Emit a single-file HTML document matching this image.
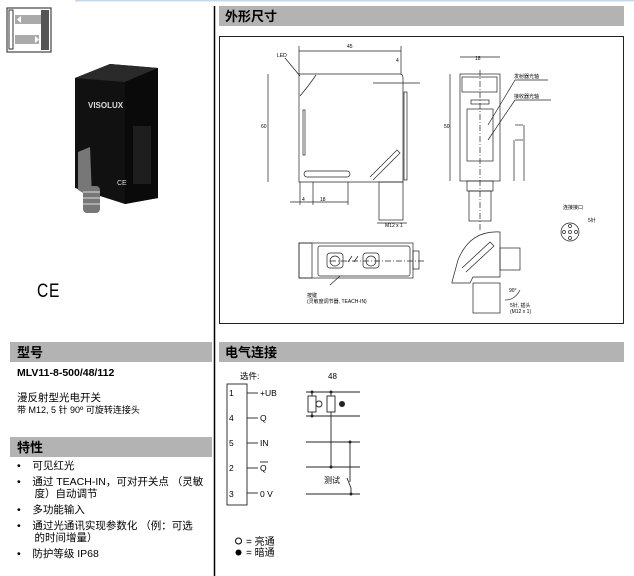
<!DOCTYPE html>
<html><head><meta charset="utf-8"><style>
html,body{margin:0;padding:0;background:#fff}
body{width:634px;height:576px;overflow:hidden;position:relative;font-family:"Liberation Sans","Noto Sans CJK SC",sans-serif}
.t{position:absolute;white-space:nowrap;color:#000}
</style></head><body>
<svg width="634" height="576" style="position:absolute;left:0;top:0" font-family="Liberation Sans, Noto Sans CJK SC, sans-serif">
<line x1="75" y1="0.5" x2="634" y2="0.5" stroke="#c8d8ea" stroke-width="2"/>
<line x1="214.5" y1="6" x2="214.5" y2="576" stroke="#000" stroke-width="1.5"/>
<rect x="219" y="6" width="405" height="20" fill="#b3b3b3"/>
<rect x="10" y="342" width="202" height="20" fill="#b3b3b3"/>
<rect x="219" y="342" width="405" height="20" fill="#b3b3b3"/>
<rect x="10" y="437" width="202" height="20" fill="#b3b3b3"/>
<text x="225" y="21" font-size="13" font-weight="bold">外形尺寸</text>
<text x="17" y="357" font-size="13" font-weight="bold">型号</text>
<text x="225" y="357" font-size="13" font-weight="bold">电气连接</text>
<text x="17" y="452" font-size="13" font-weight="bold">特性</text>
<rect x="7" y="8" width="44" height="44" fill="#fff" stroke="#444" stroke-width="1.2"/>
<rect x="9" y="10" width="4" height="39" fill="#fff" stroke="#333"/>
<rect x="41" y="10" width="8" height="40" fill="#555"/>
<rect x="15" y="15" width="26" height="9" fill="#aaa"/>
<rect x="15" y="35" width="24" height="9" fill="#aaa"/>
<polygon points="17,19.5 21,16 21,23" fill="#fff"/>
<polygon points="39,39.5 35,36 35,43" fill="#fff"/>
<polygon points="75,78 110,64 158,68 158,198 125,204 75,188" fill="#111"/>
<polygon points="75,78 110,64 158,68 125,82" fill="#2a2a2a"/>
<polygon points="125,82 158,68 158,198 125,204" fill="#0a0a0a"/>
<rect x="133" y="126" width="18" height="58" fill="#1e1e1e"/>
<polygon points="78,152 90,147 92,198 78,190" fill="#777"/>
<rect x="83" y="186" width="17" height="27" rx="4" fill="#777"/>
<rect x="83" y="191" width="17" height="2" fill="#aaa"/><rect x="83" y="197" width="17" height="2" fill="#aaa"/><rect x="83" y="203" width="17" height="2" fill="#aaa"/>
<text x="88" y="108" font-size="8" fill="#ddd" font-weight="bold">VISOLUX</text>
<text x="117" y="185" font-size="7" fill="#ddd">CE</text>
<text x="37" y="297" font-size="19" transform="translate(37 0) scale(0.82 1) translate(-37 0)" letter-spacing="1">CE</text>
<rect x="219.5" y="36.5" width="404" height="287" fill="#fff" stroke="#222" stroke-width="1"/>
<g stroke="#222" fill="none" stroke-width="0.7">
<path d="M299,74 L400,74 Q403,74 403,78 L403,182 L299,182 Z"/>
<path d="M300,96 Q310,84 316,75"/>
<rect x="303" y="110" width="2" height="45"/>
<rect x="304" y="171" width="46" height="6" rx="3"/>
<path d="M370,177 L397,150 L400,153 L373,180"/>
<rect x="404" y="92" width="3" height="88"/>
<rect x="379" y="182" width="24" height="38"/>
<line x1="268" y1="74" x2="268" y2="182"/>
<line x1="299" y1="51" x2="401" y2="51"/>
<line x1="299" y1="46" x2="299" y2="74"/><line x1="401" y1="46" x2="401" y2="74"/>
<line x1="290" y1="202" x2="348" y2="202"/>
<line x1="300" y1="182" x2="300" y2="205"/><line x1="313" y1="182" x2="313" y2="205"/><line x1="348" y1="182" x2="348" y2="205"/>
<line x1="377" y1="223" x2="407" y2="223"/>
<line x1="285" y1="58" x2="300" y2="76"/>
<line x1="373" y1="83" x2="420" y2="83"/>
<rect x="460" y="74" width="40" height="107"/>
<rect x="462" y="77" width="35" height="15"/>
<rect x="467" y="109" width="26" height="52"/>
<rect x="471" y="100" width="18" height="4"/>
<rect x="467" y="181" width="26" height="10"/>
<rect x="469" y="191" width="22" height="30"/>
<line x1="460" y1="57" x2="500" y2="57"/>
<line x1="450" y1="74" x2="450" y2="181"/>
<line x1="515" y1="125" x2="523" y2="125"/><line x1="515" y1="140" x2="523" y2="140"/>
<line x1="524" y1="125" x2="524" y2="181"/><line x1="514" y1="140" x2="514" y2="181"/>
<line x1="488" y1="125" x2="515" y2="80"/><line x1="488" y1="140" x2="515" y2="100"/>
<line x1="515" y1="80" x2="548" y2="80"/><line x1="515" y1="100" x2="551" y2="100"/>
<line x1="480" y1="70" x2="480" y2="230" stroke-dasharray="6,2,1,2"/>
<circle cx="570" cy="232" r="9"/>
<circle cx="570" cy="226" r="1.5"/><circle cx="564" cy="232" r="1.5"/><circle cx="570" cy="232" r="1.5"/><circle cx="576" cy="232" r="1.5"/><circle cx="570" cy="238" r="1.5"/>
<rect x="299" y="243" width="114" height="35"/>
<rect x="299" y="243" width="13" height="35"/>
<rect x="318" y="246" width="92" height="30" rx="2"/>
<rect x="413" y="251" width="6" height="18"/>
<rect x="327" y="253" width="16" height="15" rx="3"/><rect x="363" y="253" width="16" height="15" rx="3"/>
<circle cx="335" cy="261" r="5"/><circle cx="371" cy="261" r="5"/>
<path d="M348,262 L352,256 M354,262 L358,256"/>
<line x1="330" y1="261" x2="425" y2="261" stroke-dasharray="6,2,1,2"/>
<line x1="330" y1="285" x2="340" y2="276"/>
<path d="M452,282 L458,260 Q470,230 500,232 L500,277 L473,277 L470,283 L452,283 Z"/>
<path d="M462,268 L490,242 L494,246 L466,272"/>
<rect x="500" y="248" width="20" height="22"/>
<rect x="473" y="283" width="27" height="30"/>
<path d="M520,290 Q515,300 505,300"/>
</g>
<g font-size="5" fill="#000">
<text x="277" y="57">LED</text><text x="347" y="48">45</text><text x="396" y="62">4</text>
<text x="475" y="60">18</text><text x="261" y="128">60</text><text x="444" y="128">50</text>
<text x="514" y="78">发射器光轴</text><text x="514" y="98">接收器光轴</text>
<text x="385" y="227">M12 x 1</text><text x="320" y="201">18</text><text x="302" y="201">4</text>
<text x="563" y="209">连接接口</text><text x="588" y="222">5针</text>
<text x="307" y="297">按键</text><text x="307" y="303">(灵敏度调节器, TEACH-IN)</text>
<text x="509" y="292">90°</text><text x="510" y="307">5针, 插头</text><text x="510" y="313">(M12 x 1)</text>
</g>
<g stroke="#222" fill="none" stroke-width="0.9">
<rect x="227" y="384" width="20" height="121"/>
<line x1="247" y1="393" x2="258" y2="393"/><line x1="247" y1="418" x2="258" y2="418"/>
<line x1="247" y1="443" x2="258" y2="443"/><line x1="247" y1="468" x2="258" y2="468"/><line x1="247" y1="493" x2="258" y2="493"/>
<line x1="306" y1="392" x2="360" y2="392"/><line x1="306" y1="416" x2="360" y2="416"/>
<line x1="306" y1="442" x2="360" y2="442"/><line x1="306" y1="467" x2="360" y2="467"/><line x1="306" y1="494" x2="360" y2="494"/>
<line x1="312" y1="392" x2="312" y2="416"/><rect x="308" y="396" width="8" height="16" fill="#fff"/>
<line x1="331" y1="392" x2="331" y2="467"/><rect x="327" y="396" width="8" height="16" fill="#fff"/>
<line x1="350" y1="442" x2="350" y2="482"/><line x1="347" y1="478" x2="351" y2="488"/><line x1="351" y1="488" x2="351" y2="494"/>
<circle cx="319" cy="404" r="3"/>
</g>
<g fill="#222"><circle cx="312" cy="392" r="1.5"/><circle cx="331" cy="392" r="1.5"/><circle cx="312" cy="416" r="1.5"/><circle cx="331" cy="467" r="1.5"/><circle cx="350" cy="442" r="1.5"/><circle cx="351" cy="494" r="1.5"/><circle cx="342" cy="404" r="3"/></g>
<g font-size="8.5" fill="#000">
<text x="240" y="379">选件:</text><text x="328" y="379" font-size="8">48</text>
<text x="229" y="396">1</text><text x="229" y="421">4</text><text x="229" y="446">5</text><text x="229" y="471">2</text><text x="229" y="497">3</text>
<text x="260" y="396">+UB</text><text x="260" y="421">Q</text><text x="260" y="446">IN</text><text x="260" y="471">Q</text><text x="260" y="497">0 V</text>
<text x="324" y="483" font-size="8">测试</text>
</g>
<line x1="260" y1="462" x2="268" y2="462" stroke="#000" stroke-width="0.8"/>
<circle cx="238.5" cy="541" r="3" fill="none" stroke="#000"/><circle cx="238.5" cy="552.5" r="3" fill="#000"/>
<text x="246" y="545" font-size="10">= 亮通</text><text x="246" y="556" font-size="10">= 暗通</text>
</svg>
<div class="t" style="left:17px;top:367px;font-size:10.5px;font-weight:bold">MLV11-8-500/48/112</div>
<div class="t" style="left:17px;top:390px;font-size:10.5px">漫反射型光电开关</div>
<div class="t" style="left:17px;top:403px;font-size:9px">带 M12, 5 针 90º 可旋转连接头</div>
<div class="t" style="left:17px;top:460px;font-size:10.5px;line-height:12px">
•&nbsp;&nbsp;&nbsp;&nbsp;可见红光<br>
<div style="height:4px"></div>•&nbsp;&nbsp;&nbsp;&nbsp;通过 TEACH-IN，可对开关点 （灵敏<br>&nbsp;&nbsp;&nbsp;&nbsp;&nbsp;&nbsp;度）自动调节<br>
<div style="height:4px"></div>•&nbsp;&nbsp;&nbsp;&nbsp;多功能输入<br>
<div style="height:4px"></div>•&nbsp;&nbsp;&nbsp;&nbsp;通过光通讯实现参数化 （例：可选<br>&nbsp;&nbsp;&nbsp;&nbsp;&nbsp;&nbsp;的时间增量）<br>
<div style="height:4px"></div>•&nbsp;&nbsp;&nbsp;&nbsp;防护等级 IP68
</div>
</body></html>
